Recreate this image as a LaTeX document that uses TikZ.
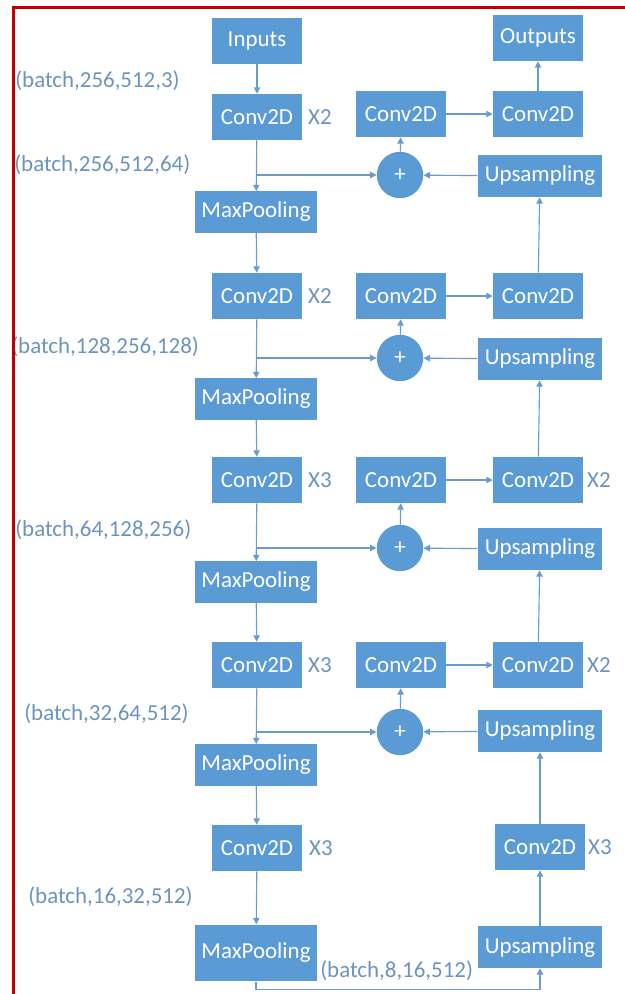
\documentclass[tikz,border=0pt]{standalone}
\usepackage{fontspec}
\setmainfont{Carlito}
\usetikzlibrary{arrows.meta}
\definecolor{boxblue}{HTML}{5B9BD5}
\definecolor{lineblue}{HTML}{6A9BCF}
\definecolor{textblue}{HTML}{6C94BC}
\definecolor{framered}{HTML}{C00000}

\begin{document}
\begin{tikzpicture}[
  x=0.025cm, y=-0.025cm,
  every node/.style={inner sep=0pt,font=\fontsize{16.3}{19}\selectfont},
  box/.style={rectangle,fill=boxblue,text=white,minimum width=2.25cm,minimum height=1.15cm},
  pool/.style={box,minimum width=3.05cm,minimum height=1.03cm},
  ups/.style={box,minimum width=3.12cm,minimum height=1.05cm},
  sum/.style={circle,fill=boxblue,text=white,minimum size=1.16cm},
  dimlabel/.style={text=textblue,anchor=west},
  replabel/.style={text=textblue},
  link/.style={draw=lineblue,line width=0.8pt,-{Triangle[length=4.5pt,width=4.5pt]}}
]
\useasboundingbox (0,0) rectangle (625,994);

% encoder
\node[box] (in) at (257,41) {Inputs};
\node[box] (cl1) at (257,117) {Conv2D};
\node[pool] (mp1) at (256,212) {MaxPooling};
\node[box] (cl2) at (257,296) {Conv2D};
\node[pool] (mp2) at (256,399) {MaxPooling};
\node[box] (cl3) at (257,480) {Conv2D};
\node[pool] (mp3) at (256,582) {MaxPooling};
\node[box] (cl4) at (257,665) {Conv2D};
\node[pool] (mp4) at (256,765) {MaxPooling};
\node[box] (cl5) at (257,848) {Conv2D};
\node[pool,minimum height=1.42cm] (mp5) at (256,953) {MaxPooling};

% merge
\node[box] (cm1) at (401,114) {Conv2D};
\node[box] (cm2) at (401,296) {Conv2D};
\node[box] (cm3) at (401,480) {Conv2D};
\node[box] (cm4) at (401,665) {Conv2D};
\node[sum] (p1) at (400,175) {+};
\node[sum] (p2) at (400,358) {+};
\node[sum] (p3) at (400,548) {+};
\node[sum] (p4) at (400,732) {+};

% decoder
\node[box] (out) at (538,38) {Outputs};
\node[box] (cr1) at (538,114) {Conv2D};
\node[box] (cr2) at (538,296) {Conv2D};
\node[box] (cr3) at (538,480) {Conv2D};
\node[box] (cr4) at (538,665) {Conv2D};
\node[box] (cr5) at (540,847) {Conv2D};
\node[ups] (up1) at (540,176) {Upsampling};
\node[ups] (up2) at (540,359) {Upsampling};
\node[ups] (up3) at (540,549) {Upsampling};
\node[ups] (up4) at (540,731) {Upsampling};
\node[ups] (up5) at (540,947) {Upsampling};

% repeats
\node[replabel] (x1) at (320,117) {X2};
\node[replabel] (x2) at (320,296) {X2};
\node[replabel] (x3) at (320,480) {X3};
\node[replabel] (x4) at (320,665) {X3};
\node[replabel] (x5) at (321,848) {X3};
\node[replabel] (x6) at (599,480) {X2};
\node[replabel] (x7) at (599,665) {X2};
\node[replabel] (x8) at (600,847) {X3};

% tensor shapes
\node[dimlabel] (s1) at (15,81) {(batch,256,512,3)};
\node[dimlabel] (s2) at (14,165) {(batch,256,512,64)};
\node[dimlabel] (s3) at (11,347) {(batch,128,256,128)};
\node[dimlabel] (s4) at (15,530) {(batch,64,128,256)};
\node[dimlabel] (s5) at (24,714) {(batch,32,64,512)};
\node[dimlabel] (s6) at (28,897) {(batch,16,32,512)};
\node[dimlabel] (s7) at (320,971) {(batch,8,16,512)};

\draw[link] (in) -- (cl1);
\draw[link] (cl1) -- (mp1);
\draw[link] (mp1) -- (cl2);
\draw[link] (cl2) -- (mp2);
\draw[link] (mp2) -- (cl3);
\draw[link] (cl3) -- (mp3);
\draw[link] (mp3) -- (cl4);
\draw[link] (cl4) -- (mp4);
\draw[link] (mp4) -- (cl5);
\draw[link] (cl5) -- (mp5);
\draw[link] (mp5.south) -- ++(0,8) -| (up5.south);

\draw[link] (cl1.south |- p1) -- (p1);
\draw[link] (cl2.south |- p2) -- (p2);
\draw[link] (cl3.south |- p3) -- (p3);
\draw[link] (cl4.south |- p4) -- (p4);

\draw[link] (up5) -- (cr5);
\draw[link] (cr5) -- (up4);
\draw[link] (up4) -- (p4);
\draw[link] (p4) -- (cm4);
\draw[link] (cm4) -- (cr4);
\draw[link] (cr4) -- (up3);
\draw[link] (up3) -- (p3);
\draw[link] (p3) -- (cm3);
\draw[link] (cm3) -- (cr3);
\draw[link] (cr3) -- (up2);
\draw[link] (up2) -- (p2);
\draw[link] (p2) -- (cm2);
\draw[link] (cm2) -- (cr2);
\draw[link] (cr2) -- (up1);
\draw[link] (up1) -- (p1);
\draw[link] (p1) -- (cm1);
\draw[link] (cm1) -- (cr1);
\draw[link] (cr1) -- (out);

% frame
\draw[framered,line width=0.075cm] (13.5,994) -- (13.5,7.5) -- (625,7.5);
\end{tikzpicture}
\end{document}
